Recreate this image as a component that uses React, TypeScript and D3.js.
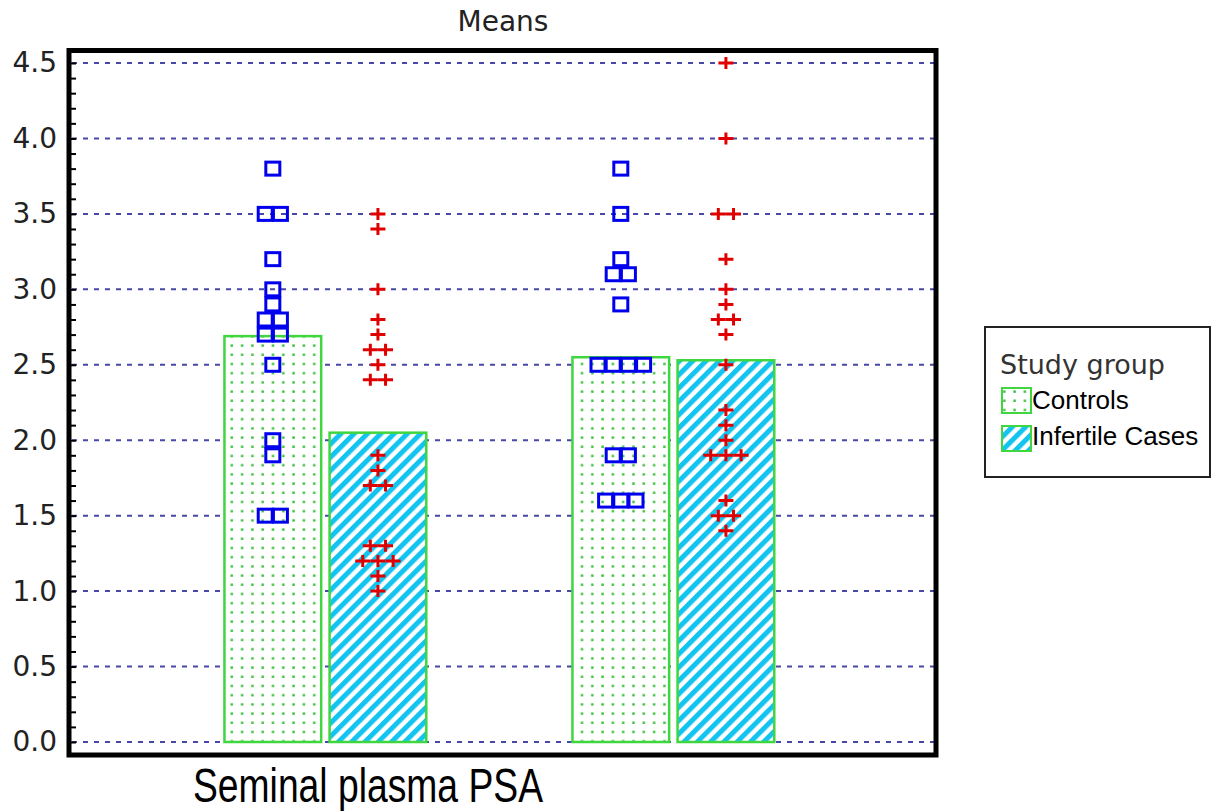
import React, { useRef, useEffect } from 'react';
import * as d3 from 'd3';

const GROUPS = ['Seminal plasma PSA', 'Group 2'];
const STUDY_GROUPS = ['Controls', 'Infertile Cases'];

// bar heights (means), per group: [Controls, Infertile Cases]
const MEANS_GROUP1 = [2.69, 2.05];
const MEANS_GROUP2 = [2.55, 2.53];

// individual observations
const CONTROLS_GROUP1 = [3.8, 3.5, 3.5, 3.2, 3.0, 2.9, 2.8, 2.8, 2.7, 2.7, 2.5, 2.0, 1.9, 1.5, 1.5];
const CASES_GROUP1 = [3.5, 3.4, 3.0, 2.8, 2.7, 2.6, 2.6, 2.5, 2.4, 2.4, 1.9, 1.8, 1.7, 1.7, 1.3, 1.3, 1.2, 1.2, 1.2, 1.1, 1.0];
const CONTROLS_GROUP2 = [3.8, 3.5, 3.2, 3.1, 3.1, 2.9, 2.5, 2.5, 2.5, 2.5, 1.9, 1.9, 1.6, 1.6, 1.6];
const CASES_GROUP2 = [4.5, 4.0, 3.5, 3.5, 3.2, 3.0, 2.9, 2.8, 2.8, 2.7, 2.5, 2.2, 2.1, 2.0, 1.9, 1.9, 1.9, 1.6, 1.5, 1.5, 1.4];

const Y_TICKS = [0, 0.5, 1.0, 1.5, 2.0, 2.5, 3.0, 3.5, 4.0, 4.5];

const TITLE = 'Means';
const X_LABEL = 'Seminal plasma PSA';
const LEGEND_TITLE = 'Study group';

const GREEN = '#3fd63f';
const DOT_GREEN = '#38c038';
const CYAN = '#14c4f0';
const BLUE = '#0000ee';
const RED = '#e00000';
const PIXEL_FONT = 'DejaVu Sans, sans-serif';
const SANS = 'Liberation Sans, Arial, sans-serif';

export default function App() {
    const svgRef = useRef<SVGSVGElement>(null);
    const width = 1218;
    const height = 811;
    const frame = { left: 69, top: 50.5, right: 936, bottom: 755 };

    useEffect(() => {
        const svg = d3.select(svgRef.current);
        svg.selectAll('*').remove();

        const means = [MEANS_GROUP1, MEANS_GROUP2];
        const points = [[CONTROLS_GROUP1, CASES_GROUP1], [CONTROLS_GROUP2, CASES_GROUP2]];

        const y = d3.scaleLinear().domain([0, 4.5]).range([742, 63]);
        const x0 = d3.scaleBand()
            .domain(GROUPS)
            .range([frame.left + 2, frame.right - 2])
            .paddingInner(0.42)
            .paddingOuter(0.45)
            .align(0.49);
        const x1 = d3.scaleBand()
            .domain(STUDY_GROUPS)
            .range([0, x0.bandwidth()])
            .paddingInner(0.08);

        // patterns
        const defs = svg.append('defs');
        const dots = defs.append('pattern')
            .attr('id', 'dots')
            .attr('patternUnits', 'userSpaceOnUse')
            .attr('width', 10.3)
            .attr('height', 9.2);
        dots.append('rect').attr('width', 10.3).attr('height', 9.2).attr('fill', 'white');
        dots.append('rect').attr('x', 4).attr('y', 4).attr('width', 2.4).attr('height', 2.4).attr('fill', DOT_GREEN);

        const stripes = defs.append('pattern')
            .attr('id', 'stripes')
            .attr('patternUnits', 'userSpaceOnUse')
            .attr('width', 9.4)
            .attr('height', 9.4)
            .attr('patternTransform', 'rotate(45)');
        stripes.append('rect').attr('width', 9.4).attr('height', 9.4).attr('fill', 'white');
        stripes.append('rect').attr('width', 5).attr('height', 9.4).attr('fill', CYAN);

        const fills = ['url(#dots)', 'url(#stripes)'];

        // title
        svg.append('text')
            .attr('x', 503)
            .attr('y', 31)
            .attr('text-anchor', 'middle')
            .attr('font-family', PIXEL_FONT)
            .attr('font-size', 28)
            .attr('fill', '#222')
            .text(TITLE);

        // gridlines
        svg.append('g')
            .selectAll('line')
            .data(Y_TICKS)
            .join('line')
            .attr('x1', frame.left + 3)
            .attr('x2', frame.right - 2)
            .attr('y1', d => y(d))
            .attr('y2', d => y(d))
            .attr('stroke', '#4848a8')
            .attr('stroke-width', 2)
            .attr('stroke-dasharray', '5 6');

        // bars
        GROUPS.forEach((g, gi) => {
            svg.append('g')
                .selectAll('rect')
                .data(STUDY_GROUPS)
                .join('rect')
                .attr('x', s => x0(g)! + x1(s)!)
                .attr('y', (s, si) => y(means[gi][si]))
                .attr('width', x1.bandwidth())
                .attr('height', (s, si) => y(0) - y(means[gi][si]))
                .attr('fill', (s, si) => fills[si])
                .attr('stroke', GREEN)
                .attr('stroke-width', 2.5);
        });

        // individual points, side by side when values repeat
        const step = 15.2;
        GROUPS.forEach((g, gi) => {
            STUDY_GROUPS.forEach((s, si) => {
                const cx = x0(g)! + x1(s)! + x1.bandwidth() / 2;
                const byValue = d3.group(points[gi][si], v => v.toFixed(1));
                const placed: { x: number; y: number }[] = [];
                byValue.forEach(vals => {
                    vals.forEach((v, i) => {
                        placed.push({ x: cx + (i - (vals.length - 1) / 2) * step, y: y(v) });
                    });
                });
                const layer = svg.append('g');
                if (si === 0) {
                    layer.selectAll('rect')
                        .data(placed)
                        .join('rect')
                        .attr('x', d => d.x - 7)
                        .attr('y', d => d.y - 6.5)
                        .attr('width', 14)
                        .attr('height', 13)
                        .attr('fill', 'none')
                        .attr('stroke', BLUE)
                        .attr('stroke-width', 3);
                } else {
                    layer.selectAll('path')
                        .data(placed)
                        .join('path')
                        .attr('d', d => `M${d.x - 7.5},${d.y}H${d.x + 7.5}M${d.x},${d.y - 6}V${d.y + 6}`)
                        .attr('fill', 'none')
                        .attr('stroke', RED)
                        .attr('stroke-width', 3);
                }
            });
        });

        // minor ticks inside the frame
        svg.append('g')
            .attr('transform', `translate(${frame.left + 2},0)`)
            .call(d3.axisRight(y).tickValues(d3.range(0, 4.55, 0.1)).tickSize(5).tickFormat(() => ''))
            .call(g => g.select('.domain').remove())
            .call(g => g.selectAll('.tick line').attr('stroke', '#000').attr('stroke-width', 2));

        // y axis labels
        svg.append('g')
            .attr('transform', `translate(${frame.left - 3},0)`)
            .call(d3.axisLeft(y).tickValues(Y_TICKS).tickSize(0).tickPadding(9).tickFormat(d3.format('.1f')))
            .call(g => g.select('.domain').remove())
            .call(g => g.selectAll('.tick text')
                .attr('font-size', 28)
                .attr('font-family', PIXEL_FONT)
                .attr('fill', '#222')
            );

        // frame
        svg.append('rect')
            .attr('x', frame.left)
            .attr('y', frame.top)
            .attr('width', frame.right - frame.left)
            .attr('height', frame.bottom - frame.top)
            .attr('fill', 'none')
            .attr('stroke', '#000')
            .attr('stroke-width', 5);

        // x label
        svg.append('text')
            .attr('x', 193)
            .attr('y', 802)
            .attr('font-family', SANS)
            .attr('font-size', 48)
            .attr('textLength', 350)
            .attr('lengthAdjust', 'spacingAndGlyphs')
            .attr('fill', '#000')
            .text(X_LABEL);

        // legend
        const legend = svg.append('g');
        legend.append('rect')
            .attr('x', 985)
            .attr('y', 327)
            .attr('width', 225)
            .attr('height', 150)
            .attr('fill', 'white')
            .attr('stroke', '#222')
            .attr('stroke-width', 2);
        legend.append('text')
            .attr('x', 1000)
            .attr('y', 374)
            .attr('font-family', PIXEL_FONT)
            .attr('font-size', 27)
            .attr('fill', '#333')
            .text(LEGEND_TITLE);
        STUDY_GROUPS.forEach((s, si) => {
            legend.append('rect')
                .attr('x', 1002)
                .attr('y', 388 + si * 38)
                .attr('width', 29)
                .attr('height', 25)
                .attr('fill', fills[si])
                .attr('stroke', GREEN)
                .attr('stroke-width', 2);
            legend.append('text')
                .attr('x', 1032)
                .attr('y', 409 + si * 36)
                .attr('font-family', SANS)
                .attr('font-size', 26)
                .attr('fill', '#000')
                .text(s);
        });
    }, []);

    return (
        <svg
            ref={svgRef}
            width={width}
            height={height}
            style={{ position: 'absolute', left: 0, top: 0, background: 'white' }}
        />
    );
}
